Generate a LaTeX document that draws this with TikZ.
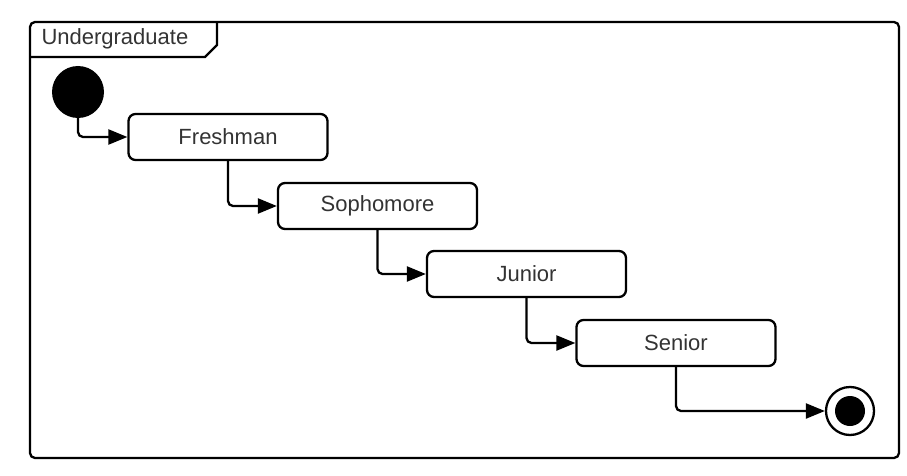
\documentclass[tikz,border=0pt]{standalone}
\usepackage{fontspec}
\setmainfont{Liberation Sans}
\usetikzlibrary{arrows.meta}
\begin{document}
\begin{tikzpicture}[x=1pt,y=-1pt,
  state/.style={draw=black, line width=2.3pt, rounded corners=7pt, minimum width=199pt, minimum height=46pt, inner sep=0pt, font=\fontsize{22}{25}\selectfont, text=black!80},
  conn/.style={line width=2.3pt, rounded corners=5pt, -{Triangle[length=19pt,width=15pt]}}]
\useasboundingbox (0,0) rectangle (907,476);
% frame
\draw[line width=2.3pt, rounded corners=5pt] (30,22) rectangle (899,458);
\draw[line width=2.3pt] (217,22) -- (217,45) -- (205,57) -- (30,57);
\node[anchor=west, font=\fontsize{22}{25}\selectfont, text=black!80] (title) at (38,39) {Undergraduate};
% states
\node[circle, fill=black, minimum size=52pt, inner sep=0pt] (init) at (78,92) {};
\node[state] (fr) at (228,137) {Freshman};
\node[state] (so) at (377.5,206) {Sophomore};
\node[state] (ju) at (526.5,274) {Junior};
\node[state] (se) at (676,343) {Senior};
\node[circle, draw=black, line width=2.3pt, minimum size=48pt, inner sep=0pt] (fin) at (850,411) {};
\node[circle, fill=black, minimum size=30pt, inner sep=0pt] (finin) at (fin) {};
% transitions
\draw[conn] (init.south) |- (fr.west);
\draw[conn] (fr.south) |- (so.west);
\draw[conn] (so.south) |- (ju.west);
\draw[conn] (ju.south) |- (se.west);
\draw[conn] (se.south) |- (fin.west);
\end{tikzpicture}
\end{document}
